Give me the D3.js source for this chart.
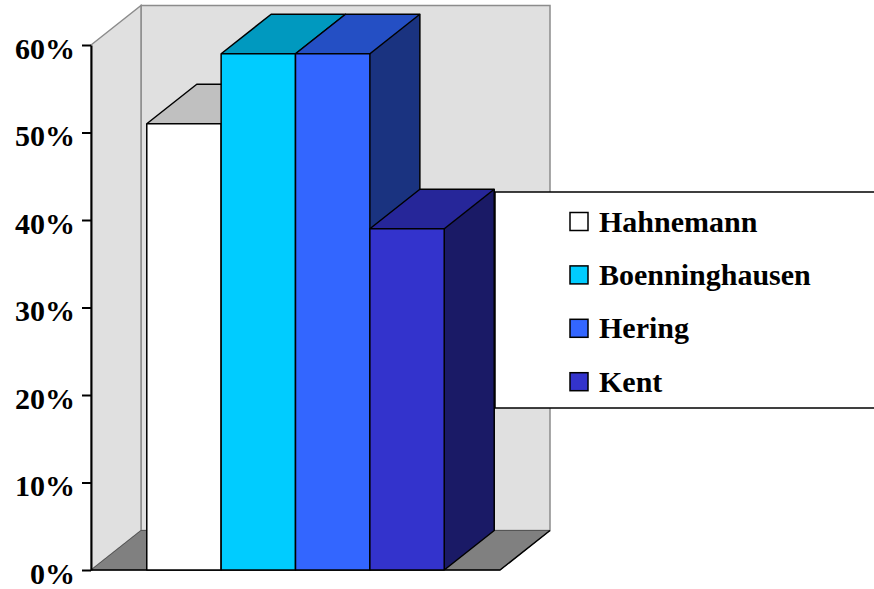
<!DOCTYPE html>
<html>
<head>
<meta charset="utf-8">
<script src="https://cdn.jsdelivr.net/npm/d3@7"></script>
<style>
  body { margin: 0; background: #fff; }
  text { font-family: "Liberation Serif", "Times New Roman", serif; font-weight: bold; }
</style>
</head>
<body>
<div id="chart"></div>
<script>
// one category, four series
const series = ["Hahnemann", "Boenninghausen", "Hering", "Kent"];
const values = [0.51, 0.59, 0.59, 0.39];
const tickValues = [0, 0.1, 0.2, 0.3, 0.4, 0.5, 0.6];
const frontColors = ["#ffffff", "#00ccff", "#3366ff", "#3333cc"];
const topColors = ["#c0c0c0", "#0099bf", "#244fc4", "#262699"];
const sideColors = ["#808080", "#006680", "#1a3380", "#1a1a66"];

let width = 874;
let height = 589;
let dx = 50;
let dy = -39.5;

let svg = d3.select("#chart").append("svg")
  .attr("width", width)
  .attr("height", height);

let y = d3.scaleLinear()
  .domain([0, 0.6])
  .range([570, 45]);

let x = d3.scaleBand()
  .domain(series)
  .range([91, 500])
  .paddingInner(0)
  .paddingOuter(0.75);

let x0 = x.range()[0];
let x1 = x.range()[1];
let yTop = y(0.6);
let yBot = y(0);

const pts = (arr) => arr.map(p => p.join(",")).join(" ");

// back wall
svg.append("rect")
  .attr("x", x0 + dx)
  .attr("y", yTop + dy)
  .attr("width", x1 - x0)
  .attr("height", yBot - yTop)
  .attr("fill", "#e0e0e0")
  .attr("stroke", "#8c8c8c")
  .attr("stroke-width", 1.5);

// left wall
svg.append("polygon")
  .attr("points", pts([[x0, yBot], [x0, yTop], [x0 + dx, yTop + dy], [x0 + dx, yBot + dy]]))
  .attr("fill", "#e0e0e0")
  .attr("stroke", "#8c8c8c")
  .attr("stroke-width", 1.5);

// floor
svg.append("polygon")
  .attr("points", pts([[x0, yBot], [x0 + dx, yBot + dy], [x1 + dx, yBot + dy], [x1, yBot]]))
  .attr("fill", "#808080")
  .attr("stroke", "#555")
  .attr("stroke-width", 1);

svg.append("polyline")
  .attr("points", pts([[x0, yBot], [x1, yBot], [x1 + dx, yBot + dy]]))
  .attr("fill", "none")
  .attr("stroke", "#000")
  .attr("stroke-width", 1.5);

// bars, left to right so later ones cover earlier sides
let bar = svg.selectAll("g.bar")
  .data(series)
  .enter()
  .append("g")
  .attr("class", "bar");

bar.each(function (d, i) {
  let g = d3.select(this);
  let bx = x(d);
  let bw = x.bandwidth();
  let by = y(values[i]);

  g.append("polygon")
    .attr("points", pts([[bx + bw, by], [bx + bw + dx, by + dy], [bx + bw + dx, yBot + dy], [bx + bw, yBot]]))
    .attr("fill", sideColors[i]);

  g.append("polygon")
    .attr("points", pts([[bx, by], [bx + dx, by + dy], [bx + bw + dx, by + dy], [bx + bw, by]]))
    .attr("fill", topColors[i]);

  g.append("rect")
    .attr("x", bx)
    .attr("y", by)
    .attr("width", bw)
    .attr("height", yBot - by)
    .attr("fill", frontColors[i]);

  // outline
  g.append("polygon")
    .attr("points", pts([[bx, yBot], [bx, by], [bx + dx, by + dy], [bx + bw + dx, by + dy],
      [bx + bw + dx, yBot + dy], [bx + bw, yBot]]))
    .attr("fill", "none")
    .attr("stroke", "#000")
    .attr("stroke-width", 1.5)
    .attr("stroke-linejoin", "round");

  g.append("polyline")
    .attr("points", pts([[bx, by], [bx + bw, by], [bx + bw + dx, by + dy]]))
    .attr("fill", "none")
    .attr("stroke", "#000")
    .attr("stroke-width", 1.5);

  g.append("line")
    .attr("x1", bx + bw).attr("y1", by)
    .attr("x2", bx + bw).attr("y2", yBot)
    .attr("stroke", "#000")
    .attr("stroke-width", 1.5);
});

// y axis
let yAxis = d3.axisLeft(y)
  .tickValues(tickValues)
  .tickFormat(d3.format(".0%"))
  .tickSize(9)
  .tickSizeOuter(0)
  .tickPadding(7);

let axisG = svg.append("g")
  .attr("transform", `translate(${x0}, 0)`)
  .call(yAxis);

axisG.select(".domain").attr("stroke", "#000").attr("stroke-width", 2);
axisG.selectAll(".tick line").attr("stroke", "#000").attr("stroke-width", 2);
axisG.selectAll(".tick text")
  .attr("fill", "#000")
  .attr("dy", "0.44em")
  .style("font-size", "30px")
  .style("font-family", "'Liberation Serif', 'Times New Roman', serif")
  .style("font-weight", "bold");

// legend
let legend = svg.append("g")
  .attr("transform", "translate(495, 192)");

legend.append("rect")
  .attr("x", 0)
  .attr("y", 0)
  .attr("width", 400)
  .attr("height", 216)
  .attr("fill", "#fff")
  .attr("stroke", "#000")
  .attr("stroke-width", 1.5);

let item = legend.selectAll("g.item")
  .data(series)
  .enter()
  .append("g")
  .attr("class", "item")
  .attr("transform", function (d, i) { return `translate(75, ${29.5 + i * 53.4})`; });

item.append("rect")
  .attr("x", 0)
  .attr("y", -9)
  .attr("width", 18)
  .attr("height", 18)
  .attr("fill", function (d, i) { return frontColors[i]; })
  .attr("stroke", "#000")
  .attr("stroke-width", 1.5);

item.append("text")
  .attr("x", 29)
  .attr("y", 10)
  .style("font-size", "30px")
  .attr("fill", "#000")
  .text(function (d) { return d; });
</script>
</body>
</html>
